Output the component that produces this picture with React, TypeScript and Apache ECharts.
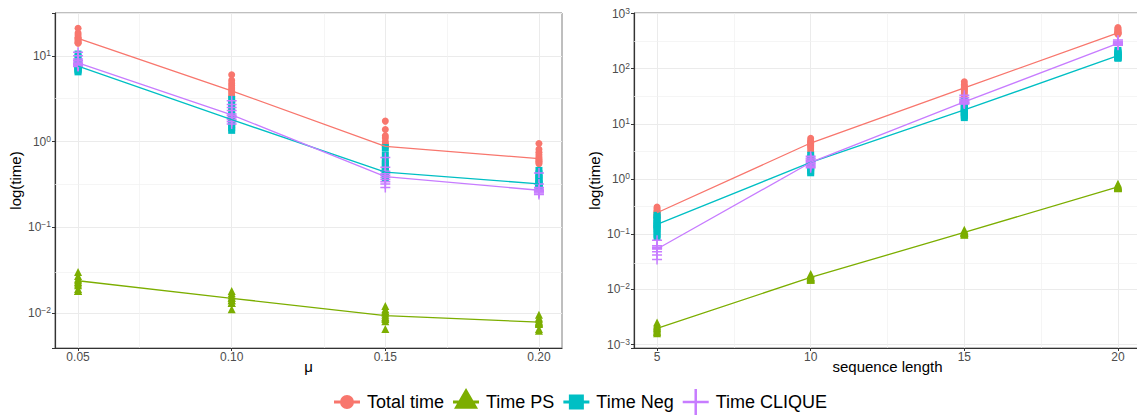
import React, { useEffect, useRef } from 'react';
import * as echarts from 'echarts';

// ---------- data ----------
const muValues = [0.05, 0.1, 0.15, 0.2];
const seqLengths = [5, 10, 15, 20];
const seriesNames = ['Total time', 'Time PS', 'Time Neg', 'Time CLIQUE'];
const seriesColors = ['#F8766D', '#7CAE00', '#00BFC4', '#C77CFF'];

// left panel (x = mu): replicate runs per mu value
const totalMuRuns = [
  [21, 18.5, 17.5, 16.5, 16, 15.5, 15, 14.5, 14.2, 14],
  [6.0, 5.2, 4.8, 4.5, 4.2, 4.0, 3.8, 3.6, 3.4, 3.3],
  [1.73, 1.38, 1.17, 1.1, 1.0, 0.95, 0.92, 0.9, 0.88, 0.86],
  [0.95, 0.81, 0.75, 0.7, 0.66, 0.63, 0.61, 0.59, 0.57, 0.55],
];
const psMuRuns = [
  [0.03, 0.027, 0.025, 0.024, 0.023, 0.022, 0.021, 0.019, 0.018, 0.018],
  [0.018, 0.017, 0.016, 0.015, 0.015, 0.014, 0.014, 0.013, 0.013, 0.011],
  [0.012, 0.011, 0.0105, 0.01, 0.0095, 0.009, 0.0088, 0.0085, 0.008, 0.0065],
  [0.0095, 0.0088, 0.0084, 0.008, 0.0078, 0.0076, 0.0075, 0.0074, 0.0065, 0.0062],
];
const negMuRuns = [
  [10.5, 9.5, 8.5, 8, 7.8, 7.5, 7.2, 7, 6.8, 6.5],
  [3.1, 2.8, 2.5, 2.2, 2.0, 1.8, 1.7, 1.6, 1.45, 1.35],
  [0.85, 0.7, 0.6, 0.55, 0.5, 0.46, 0.44, 0.42, 0.4, 0.38],
  [0.46, 0.42, 0.4, 0.37, 0.35, 0.33, 0.32, 0.31, 0.3, 0.29],
];
const cliqueMuRuns = [
  [11, 10, 9.2, 8.8, 8.5, 8.2, 8.0, 7.8, 7.6, 7.5],
  [3.0, 2.7, 2.5, 2.3, 2.1, 2.0, 1.9, 1.8, 1.7, 1.6],
  [0.65, 0.5, 0.45, 0.42, 0.4, 0.38, 0.36, 0.34, 0.32, 0.29],
  [0.43, 0.32, 0.29, 0.28, 0.27, 0.27, 0.26, 0.26, 0.25, 0.24],
];
const totalMuMean = [16, 3.9, 0.88, 0.63];
const psMuMean = [0.0237, 0.0148, 0.0093, 0.0078];
const negMuMean = [7.6, 1.8, 0.44, 0.32];
const cliqueMuMean = [8.3, 2.05, 0.39, 0.27];

// right panel (x = sequence length)
const totalLenRuns = [
  [0.31, 0.29, 0.27, 0.26, 0.25, 0.24, 0.23, 0.22, 0.21, 0.2],
  [5.5, 5.0, 4.8, 4.6, 4.4, 4.2, 4.0, 3.8, 3.5, 3.2],
  [58, 52, 49, 46, 44, 42, 40, 38, 35, 32],
  [560, 530, 510, 490, 470, 460, 450, 440, 430, 420],
];
const psLenRuns = [
  [0.0025, 0.0023, 0.0022, 0.0021, 0.002, 0.0019, 0.0018, 0.0017, 0.0017, 0.0016],
  [0.019, 0.018, 0.017, 0.017, 0.0165, 0.016, 0.016, 0.0155, 0.015, 0.015],
  [0.12, 0.115, 0.11, 0.11, 0.108, 0.106, 0.105, 0.104, 0.1, 0.098],
  [0.82, 0.78, 0.76, 0.74, 0.73, 0.72, 0.71, 0.7, 0.69, 0.68],
];
const negLenRuns = [
  [0.22, 0.2, 0.18, 0.16, 0.15, 0.14, 0.13, 0.12, 0.1, 0.09],
  [2.7, 2.4, 2.2, 2.0, 1.9, 1.8, 1.7, 1.6, 1.4, 1.3],
  [26, 23, 21, 19, 18, 17, 16, 15, 14, 13],
  [215, 200, 190, 180, 175, 170, 165, 160, 158, 155],
];
const cliqueLenRuns = [
  [0.078, 0.062, 0.058, 0.057, 0.056, 0.055, 0.054, 0.048, 0.042, 0.035],
  [2.6, 2.4, 2.3, 2.2, 2.1, 2.0, 1.9, 1.8, 1.7, 1.6],
  [33, 30, 28, 27, 26, 25, 24.5, 24, 23.5, 23],
  [330, 310, 300, 295, 290, 285, 280, 275, 270, 265],
];
const totalLenMean = [0.245, 4.5, 45, 445];
const psLenMean = [0.00197, 0.0165, 0.108, 0.72];
const negLenMean = [0.151, 2.0, 17.9, 172];
const cliqueLenMean = [0.054, 2.0, 25, 288];

// gridline positions
const muMinorBreaks = [0.075, 0.125, 0.175];
const lenMinorBreaks = [7.5, 12.5, 17.5];
const leftLogMinor = [-1.5, -0.5, 0.5];
const rightLogMinor = [-2.5, -1.5, -0.5, 0.5, 1.5, 2.5];

// ---------- styling ----------
const FONT = '"Liberation Sans", Arial, Helvetica, sans-serif';
const PLUS = 'path://M4.25,0H5.75V4.25H10V5.75H5.75V10H4.25V5.75H0V4.25H4.25Z';
const symbols = ['circle', 'triangle', 'rect', PLUS];
const symbolSizes = [7, 8, 7, 10];

const BOX = 'M0,0M26,30';
const LINE = 'M0,13.5H26V16.5H0Z';
const legendIcons = [
  'path://' + BOX + LINE + 'M6,15A7,7 0 1,1 20,15A7,7 0 1,1 6,15Z',
  'path://' + BOX + LINE + 'M13,1L25,21.7L1,21.7Z',
  'path://' + BOX + LINE + 'M5.5,7.5H20.5V22.5H5.5Z',
  'path://' + BOX + 'M0,13.75H26V16.25H0Z' + 'M11.75,2H14.25V28H11.75Z',
];

const majorGrid = { color: '#EBEBEB', width: 1, type: 'solid' as const };
const minorGrid = { color: '#F1F1F1', width: 0.7, type: 'solid' as const };

function runsToPoints(xs: number[], runs: number[][]) {
  const out: number[][] = [];
  xs.forEach((x, i) => runs[i].forEach((v) => out.push([x, v])));
  return out;
}
function meansToPoints(xs: number[], means: number[]) {
  return xs.map((x, i) => [x, means[i]]);
}

function powLabel(v: number) {
  const l = Math.log10(v);
  const k = Math.round(l);
  if (Math.abs(l - k) > 1e-4) return '';
  const e = k < 0 ? '\u2212' + -k : String(k);
  return '{b|10}{s|' + e + '}';
}

const labelRich = {
  b: { fontSize: 12, lineHeight: 15, color: '#4D4D4D', fontFamily: FONT },
  s: { fontSize: 8.5, lineHeight: 9, color: '#4D4D4D', fontFamily: FONT, verticalAlign: 'top' },
};

function buildPanel(
  gridIndex: number,
  xs: number[],
  runs: number[][][],
  means: number[][],
  xMinor: number[],
  yMinorExp: number[],
) {
  const series: any[] = [];
  series.push({
    type: 'line',
    name: 'grid' + gridIndex,
    xAxisIndex: gridIndex,
    yAxisIndex: gridIndex,
    data: [],
    silent: true,
    z: 1,
    markLine: {
      silent: true,
      symbol: ['none', 'none'],
      label: { show: false },
      z: 1,
      emphasis: { disabled: true },
      data: [
        ...xs.map((v) => ({ xAxis: v, lineStyle: majorGrid })),
        ...xMinor.map((v) => ({ xAxis: v, lineStyle: minorGrid })),
        ...yMinorExp.map((e) => ({ yAxis: Math.pow(10, e), lineStyle: minorGrid })),
      ],
    },
  });
  runs.forEach((r, i) => {
    series.push({
      type: 'scatter',
      name: seriesNames[i],
      xAxisIndex: gridIndex,
      yAxisIndex: gridIndex,
      data: runsToPoints(xs, r),
      symbol: symbols[i],
      symbolSize: symbolSizes[i],
      itemStyle: { color: seriesColors[i], opacity: 1 },
      z: 3,
    });
  });
  means.forEach((m, i) => {
    series.push({
      type: 'line',
      name: seriesNames[i],
      xAxisIndex: gridIndex,
      yAxisIndex: gridIndex,
      data: meansToPoints(xs, m),
      showSymbol: false,
      symbol: 'none',
      lineStyle: { color: seriesColors[i], width: 1.3 },
      itemStyle: { color: seriesColors[i] },
      z: 4,
    });
  });
  return series;
}

function xAxisDef(gridIndex: number, min: number, max: number, ticks: number[], name: string, digits: number) {
  return {
    type: 'value',
    gridIndex,
    min,
    max,
    name,
    nameLocation: 'middle',
    nameGap: 11,
    nameMoveOverlap: false,
    nameTextStyle: { fontSize: 15, color: '#000', fontFamily: FONT },
    axisLine: { show: true, onZero: false, lineStyle: { color: '#333', width: 1.2 } },
    axisTick: { show: true, customValues: ticks, length: 3, lineStyle: { color: '#333', width: 1 } },
    axisLabel: {
      customValues: ticks,
      margin: 3,
      fontSize: 12,
      color: '#4D4D4D',
      fontFamily: FONT,
      formatter: (v: number) => v.toFixed(digits),
    },
    splitLine: { show: false },
  };
}

function yAxisDef(gridIndex: number, minExp: number, maxExp: number) {
  return {
    type: 'log',
    logBase: 10,
    gridIndex,
    min: Math.pow(10, minExp),
    max: Math.pow(10, maxExp),
    name: 'log(time)',
    nameLocation: 'middle',
    nameGap: 32,
    nameMoveOverlap: false,
    nameTextStyle: { fontSize: 15, color: '#000', fontFamily: FONT },
    axisLine: { show: true, lineStyle: { color: '#333', width: 1.2 } },
    axisTick: { show: true, length: 3, lineStyle: { color: '#333', width: 1 } },
    axisLabel: {
      margin: 4,
      color: '#4D4D4D',
      formatter: powLabel,
      rich: labelRich,
      showMinLabel: true,
      showMaxLabel: true,
    },
    splitLine: { show: true, lineStyle: majorGrid },
    minorSplitLine: { show: false },
  };
}

export default function App() {
  const ref = useRef<HTMLDivElement>(null);
  useEffect(() => {
    if (!ref.current) return;
    const chart = echarts.init(ref.current, null, { renderer: 'svg' });
    const option: any = {
      animation: false,
      backgroundColor: '#fff',
      textStyle: { fontFamily: FONT },
      grid: [
        { left: 55, top: 13, width: 507, height: 335, show: true, borderColor: '#7F7F7F', borderWidth: 1, backgroundColor: 'transparent' },
        { left: 634, top: 13, width: 507, height: 335, show: true, borderColor: '#7F7F7F', borderWidth: 1, backgroundColor: 'transparent' },
      ],
      xAxis: [
        xAxisDef(0, 0.0425, 0.2075, muValues, 'μ', 2),
        xAxisDef(1, 4.25, 20.75, seqLengths, 'sequence length', 0),
      ],
      yAxis: [yAxisDef(0, -2.41, 1.5), yAxisDef(1, -3.062, 3.01)],
      legend: {
        left: 334,
        top: 387,
        padding: 0,
        itemWidth: 26,
        itemHeight: 30,
        itemGap: 9,
        selectedMode: false,
        textStyle: { fontSize: 18, color: '#000', fontFamily: FONT, padding: [0, 0, 0, 2] },
        data: seriesNames.map((n, i) => ({
          name: n,
          icon: legendIcons[i],
          itemStyle: { color: seriesColors[i], borderWidth: 0 },
        })),
      },
      series: [
        ...buildPanel(0, muValues, [totalMuRuns, psMuRuns, negMuRuns, cliqueMuRuns], [totalMuMean, psMuMean, negMuMean, cliqueMuMean], muMinorBreaks, leftLogMinor),
        ...buildPanel(1, seqLengths, [totalLenRuns, psLenRuns, negLenRuns, cliqueLenRuns], [totalLenMean, psLenMean, negLenMean, cliqueLenMean], lenMinorBreaks, rightLogMinor),
      ],
    };
    chart.setOption(option);
    return () => chart.dispose();
  }, []);
  return (
    <div style={{ position: 'fixed', left: 0, top: 0, width: 1137, height: 415, overflow: 'hidden', background: '#fff' }}>
      <div ref={ref} style={{ width: 1146, height: 415 }} />
    </div>
  );
}
